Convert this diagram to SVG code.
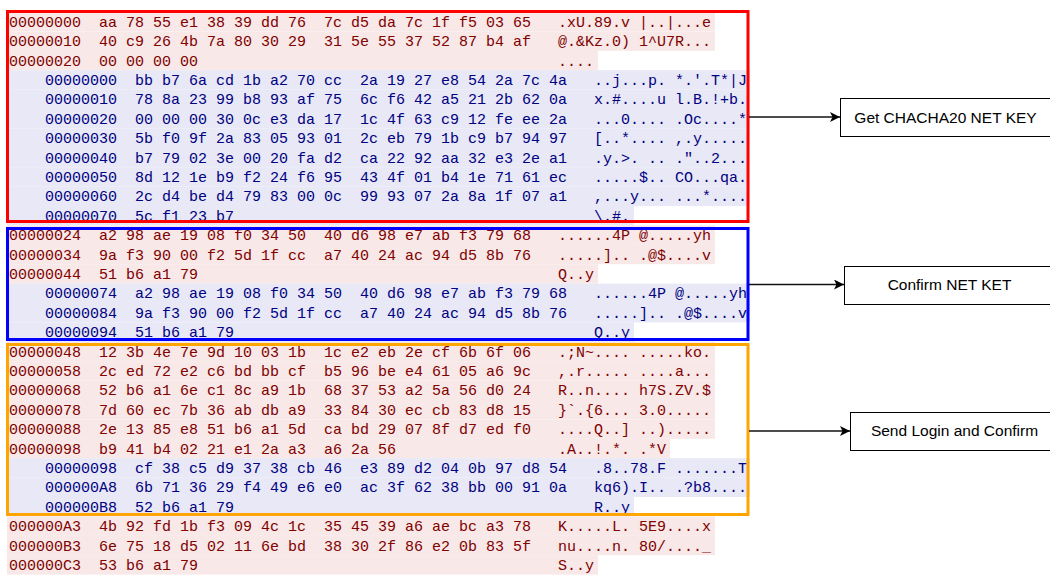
<svg xmlns="http://www.w3.org/2000/svg" width="1050" height="579" viewBox="0 0 1050 579">
<style>
text{white-space:pre}
.hx{font-family:"Liberation Mono","DejaVu Sans Mono",monospace;font-size:15px}
.rt{fill:#800000}
.bt{fill:#000080}
.rb{fill:#f8e8e8}
.bb{fill:#e8e8f6}
.blk{fill:none;stroke-width:3}
.lbl rect{fill:#fff;stroke:#000;stroke-width:1}
.lbl text{font-family:"Liberation Sans",Arial,sans-serif;font-size:15.5px;fill:#000;text-anchor:middle}
.con{stroke:#111;stroke-width:1.3;fill:none;marker-end:url(#ah)}
</style>
<defs>
<marker id="ah" markerUnits="userSpaceOnUse" markerWidth="12" markerHeight="10" refX="10" refY="5" orient="auto">
<path d="M0,0 L10,5 L0,10 L2.5,5 Z" fill="#000"/>
</marker>
</defs>
<rect width="1050" height="579" fill="#fff"/>
<g id="hexdump" class="hx">
<rect class="rb" x="7" y="12" width="708" height="19.4"/>
<rect class="rb" x="7" y="31.4" width="708" height="19.4"/>
<rect class="rb" x="7" y="50.8" width="591" height="19.4"/>
<rect class="bb" x="7" y="70.2" width="743" height="19.4"/>
<rect class="bb" x="7" y="89.6" width="743" height="19.4"/>
<rect class="bb" x="7" y="109" width="743" height="19.4"/>
<rect class="bb" x="7" y="128.4" width="743" height="19.4"/>
<rect class="bb" x="7" y="147.8" width="743" height="19.4"/>
<rect class="bb" x="7" y="167.2" width="743" height="19.4"/>
<rect class="bb" x="7" y="186.6" width="743" height="19.4"/>
<rect class="bb" x="7" y="206" width="627" height="19.4"/>
<rect class="rb" x="7" y="225.4" width="708" height="19.4"/>
<rect class="rb" x="7" y="244.8" width="708" height="19.4"/>
<rect class="rb" x="7" y="264.2" width="591" height="19.4"/>
<rect class="bb" x="7" y="283.6" width="743" height="19.4"/>
<rect class="bb" x="7" y="303" width="743" height="19.4"/>
<rect class="bb" x="7" y="322.4" width="627" height="19.4"/>
<rect class="rb" x="7" y="341.8" width="708" height="19.4"/>
<rect class="rb" x="7" y="361.2" width="708" height="19.4"/>
<rect class="rb" x="7" y="380.6" width="708" height="19.4"/>
<rect class="rb" x="7" y="400" width="708" height="19.4"/>
<rect class="rb" x="7" y="419.4" width="708" height="19.4"/>
<rect class="rb" x="7" y="438.8" width="663" height="19.4"/>
<rect class="bb" x="7" y="458.2" width="743" height="19.4"/>
<rect class="bb" x="7" y="477.6" width="743" height="19.4"/>
<rect class="bb" x="7" y="497" width="627" height="19.4"/>
<rect class="rb" x="7" y="516.4" width="708" height="19.4"/>
<rect class="rb" x="7" y="535.8" width="708" height="19.4"/>
<rect class="rb" x="7" y="555.2" width="591" height="19.4"/>

<text class="rt" y="26.7"><tspan x="9">00000000</tspan><tspan x="99">aa 78 55 e1 38 39 dd 76</tspan><tspan x="324">7c d5 da 7c 1f f5 03 65</tspan><tspan x="558">.xU.89.v |..|...e</tspan></text>
<text class="rt" y="46.1"><tspan x="9">00000010</tspan><tspan x="99">40 c9 26 4b 7a 80 30 29</tspan><tspan x="324">31 5e 55 37 52 87 b4 af</tspan><tspan x="558">@.&amp;Kz.0) 1^U7R...</tspan></text>
<text class="rt" y="65.5"><tspan x="9">00000020</tspan><tspan x="99">00 00 00 00</tspan><tspan x="558">....</tspan></text>
<text class="bt" y="84.9"><tspan x="45">00000000</tspan><tspan x="135">bb b7 6a cd 1b a2 70 cc</tspan><tspan x="360">2a 19 27 e8 54 2a 7c 4a</tspan><tspan x="594">..j...p. *.'.T*|J</tspan></text>
<text class="bt" y="104.3"><tspan x="45">00000010</tspan><tspan x="135">78 8a 23 99 b8 93 af 75</tspan><tspan x="360">6c f6 42 a5 21 2b 62 0a</tspan><tspan x="594">x.#....u l.B.!+b.</tspan></text>
<text class="bt" y="123.7"><tspan x="45">00000020</tspan><tspan x="135">00 00 00 30 0c e3 da 17</tspan><tspan x="360">1c 4f 63 c9 12 fe ee 2a</tspan><tspan x="594">...0.... .Oc....*</tspan></text>
<text class="bt" y="143.1"><tspan x="45">00000030</tspan><tspan x="135">5b f0 9f 2a 83 05 93 01</tspan><tspan x="360">2c eb 79 1b c9 b7 94 97</tspan><tspan x="594">[..*.... ,.y.....</tspan></text>
<text class="bt" y="162.5"><tspan x="45">00000040</tspan><tspan x="135">b7 79 02 3e 00 20 fa d2</tspan><tspan x="360">ca 22 92 aa 32 e3 2e a1</tspan><tspan x="594">.y.&gt;. .. ."..2...</tspan></text>
<text class="bt" y="181.9"><tspan x="45">00000050</tspan><tspan x="135">8d 12 1e b9 f2 24 f6 95</tspan><tspan x="360">43 4f 01 b4 1e 71 61 ec</tspan><tspan x="594">.....$.. CO...qa.</tspan></text>
<text class="bt" y="201.3"><tspan x="45">00000060</tspan><tspan x="135">2c d4 be d4 79 83 00 0c</tspan><tspan x="360">99 93 07 2a 8a 1f 07 a1</tspan><tspan x="594">,...y... ...*....</tspan></text>
<text class="bt" y="220.7"><tspan x="45">00000070</tspan><tspan x="135">5c f1 23 b7</tspan><tspan x="594">\.#.</tspan></text>
<text class="rt" y="240.1"><tspan x="9">00000024</tspan><tspan x="99">a2 98 ae 19 08 f0 34 50</tspan><tspan x="324">40 d6 98 e7 ab f3 79 68</tspan><tspan x="558">......4P @.....yh</tspan></text>
<text class="rt" y="259.5"><tspan x="9">00000034</tspan><tspan x="99">9a f3 90 00 f2 5d 1f cc</tspan><tspan x="324">a7 40 24 ac 94 d5 8b 76</tspan><tspan x="558">.....].. .@$....v</tspan></text>
<text class="rt" y="278.9"><tspan x="9">00000044</tspan><tspan x="99">51 b6 a1 79</tspan><tspan x="558">Q..y</tspan></text>
<text class="bt" y="298.3"><tspan x="45">00000074</tspan><tspan x="135">a2 98 ae 19 08 f0 34 50</tspan><tspan x="360">40 d6 98 e7 ab f3 79 68</tspan><tspan x="594">......4P @.....yh</tspan></text>
<text class="bt" y="317.7"><tspan x="45">00000084</tspan><tspan x="135">9a f3 90 00 f2 5d 1f cc</tspan><tspan x="360">a7 40 24 ac 94 d5 8b 76</tspan><tspan x="594">.....].. .@$....v</tspan></text>
<text class="bt" y="337.1"><tspan x="45">00000094</tspan><tspan x="135">51 b6 a1 79</tspan><tspan x="594">Q..y</tspan></text>
<text class="rt" y="356.5"><tspan x="9">00000048</tspan><tspan x="99">12 3b 4e 7e 9d 10 03 1b</tspan><tspan x="324">1c e2 eb 2e cf 6b 6f 06</tspan><tspan x="558">.;N~.... .....ko.</tspan></text>
<text class="rt" y="375.9"><tspan x="9">00000058</tspan><tspan x="99">2c ed 72 e2 c6 bd bb cf</tspan><tspan x="324">b5 96 be e4 61 05 a6 9c</tspan><tspan x="558">,.r..... ....a...</tspan></text>
<text class="rt" y="395.3"><tspan x="9">00000068</tspan><tspan x="99">52 b6 a1 6e c1 8c a9 1b</tspan><tspan x="324">68 37 53 a2 5a 56 d0 24</tspan><tspan x="558">R..n.... h7S.ZV.$</tspan></text>
<text class="rt" y="414.7"><tspan x="9">00000078</tspan><tspan x="99">7d 60 ec 7b 36 ab db a9</tspan><tspan x="324">33 84 30 ec cb 83 d8 15</tspan><tspan x="558">}`.{6... 3.0.....</tspan></text>
<text class="rt" y="434.1"><tspan x="9">00000088</tspan><tspan x="99">2e 13 85 e8 51 b6 a1 5d</tspan><tspan x="324">ca bd 29 07 8f d7 ed f0</tspan><tspan x="558">....Q..] ..).....</tspan></text>
<text class="rt" y="453.5"><tspan x="9">00000098</tspan><tspan x="99">b9 41 b4 02 21 e1 2a a3</tspan><tspan x="324">a6 2a 56</tspan><tspan x="558">.A..!.*. .*V</tspan></text>
<text class="bt" y="472.9"><tspan x="45">00000098</tspan><tspan x="135">cf 38 c5 d9 37 38 cb 46</tspan><tspan x="360">e3 89 d2 04 0b 97 d8 54</tspan><tspan x="594">.8..78.F .......T</tspan></text>
<text class="bt" y="492.3"><tspan x="45">000000A8</tspan><tspan x="135">6b 71 36 29 f4 49 e6 e0</tspan><tspan x="360">ac 3f 62 38 bb 00 91 0a</tspan><tspan x="594">kq6).I.. .?b8....</tspan></text>
<text class="bt" y="511.7"><tspan x="45">000000B8</tspan><tspan x="135">52 b6 a1 79</tspan><tspan x="594">R..y</tspan></text>
<text class="rt" y="531.1"><tspan x="9">000000A3</tspan><tspan x="99">4b 92 fd 1b f3 09 4c 1c</tspan><tspan x="324">35 45 39 a6 ae bc a3 78</tspan><tspan x="558">K.....L. 5E9....x</tspan></text>
<text class="rt" y="550.5"><tspan x="9">000000B3</tspan><tspan x="99">6e 75 18 d5 02 11 6e bd</tspan><tspan x="324">38 30 2f 86 e2 0b 83 5f</tspan><tspan x="558">nu....n. 80/...._</tspan></text>
<text class="rt" y="569.9"><tspan x="9">000000C3</tspan><tspan x="99">53 b6 a1 79</tspan><tspan x="558">S..y</tspan></text>
</g>

<g id="block-key-exchange"><rect class="blk" stroke="#ff0000" x="7.5" y="11.5" width="740.5" height="210"/></g>
<g id="block-confirm"><rect class="blk" stroke="#0000ff" x="7.5" y="228.5" width="740.5" height="111"/></g>
<g id="block-login"><rect class="blk" stroke="#ffa500" x="7.5" y="344.5" width="740.5" height="170"/></g>

<g id="connectors">
<path class="con" d="M749,117 L840,117"/>
<path class="con" d="M749,284.5 L844,284.5"/>
<path class="con" d="M749,431 L850,431"/>
</g>

<g id="node-get-key" class="lbl"><rect x="840.5" y="98.5" width="230" height="38"/><text x="945.5" y="122.5">Get CHACHA20 NET KEY</text></g>
<g id="node-confirm" class="lbl"><rect x="844.5" y="266.5" width="230" height="38"/><text x="949.5" y="290">Confirm NET KET</text></g>
<g id="node-login" class="lbl"><rect x="850.5" y="412.5" width="230" height="38"/><text x="954.5" y="436">Send Login and Confirm</text></g>
</svg>
